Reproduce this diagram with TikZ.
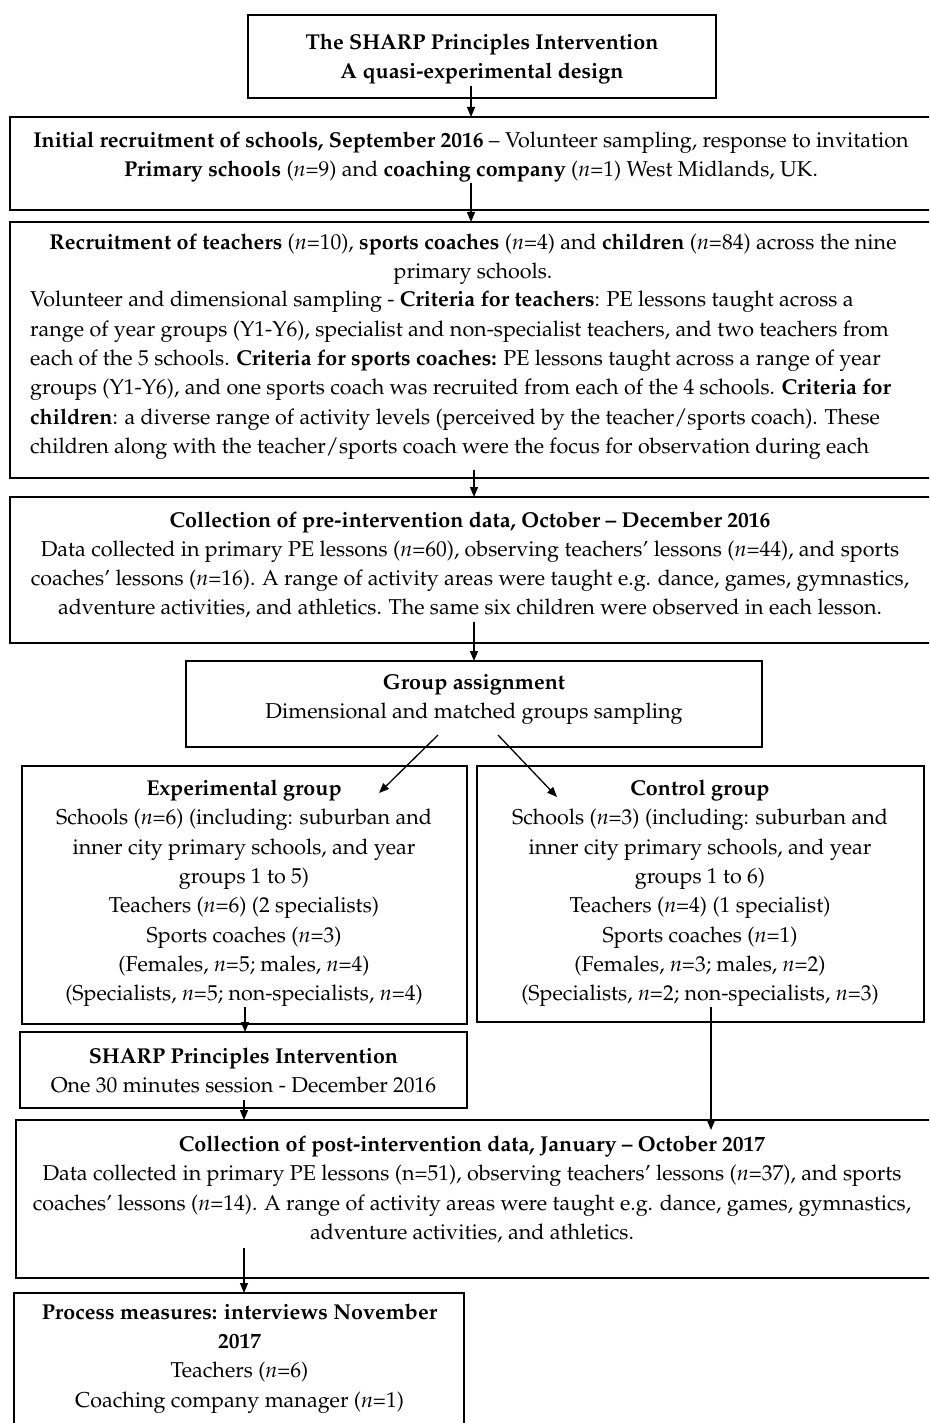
\documentclass[tikz,border=0pt]{standalone}
\usepackage[T1]{fontenc}
\usepackage{mathpazo}
\usetikzlibrary{arrows.meta,calc}
\tikzset{
  box/.style={draw, line width=1.3pt, inner sep=0pt, outer sep=0pt},
  txt/.style={inner sep=0pt, align=center, font=\fontsize{21.5}{29.3}\selectfont},
  txtl/.style={inner sep=0pt, align=left, font=\fontsize{21.5}{29.3}\selectfont},
  arr/.style={line width=1.3pt, -{Triangle[length=10pt,width=8pt]}}
}
\newcommand{\nn}{\textit{n}}
\begin{document}
\begin{tikzpicture}[x=1pt,y=-1pt]
\useasboundingbox (0,0) rectangle (929,1423);
\clip (0,0) rectangle (929,1423);
% boxes
\node[box, minimum width=468pt, minimum height=83pt] (b1) at (482,56.5) {};
\node[box, minimum width=922pt, minimum height=93pt] (b2) at (471,163.5) {};
\node[box, minimum width=922pt, minimum height=256pt] (b3) at (471,350) {};
\node[box, minimum width=922pt, minimum height=146pt] (b4) at (471,570) {};
\node[box, minimum width=576pt, minimum height=86pt] (b5) at (474,704) {};
\node[box, minimum width=445pt, minimum height=258pt] (b6) at (244.5,895) {};
\node[box, minimum width=447pt, minimum height=256pt] (b7) at (700.5,894) {};
\node[box, minimum width=447pt, minimum height=76pt] (b8) at (243.5,1070) {};
\node[box, minimum width=916pt, minimum height=158pt] (b9) at (474,1199) {};
\node[box, minimum width=450pt, minimum height=147pt] (b10) at (239,1366.5) {};
% texts
\node[txt] (t1) at (482,59) {\textbf{The SHARP Principles Intervention}\\\textbf{A quasi-experimental design}};
\node[txt] (t2) at (471,157) {\textbf{Initial recruitment of schools, September 2016} -- Volunteer sampling, response to invitation\\
\textbf{Primary schools} (\nn=9) and \textbf{coaching company} (\nn=1) West Midlands, UK.};
\node[txt] (t3a) at (473,259) {\textbf{Recruitment of teachers} (\nn=10), \textbf{sports coaches} (\nn=4) and \textbf{children} (\nn=84) across the nine\\
primary schools.};
\node[txtl, anchor=west] (t3b) at (30,375.5) {Volunteer and dimensional sampling - \textbf{Criteria for teachers}: PE lessons taught across a\\
range of year groups (Y1-Y6), specialist and non-specialist teachers, and two teachers from\\
each of the 5 schools. \textbf{Criteria for sports coaches:} PE lessons taught across a range of year\\
groups (Y1-Y6), and one sports coach was recruited from each of the 4 schools. \textbf{Criteria for}\\
\textbf{children}: a diverse range of activity levels (perceived by the teacher/sports coach). These\\
children along with the teacher/sports coach were the focus for observation during each};
\node[txt] (t4) at (470,565) {\textbf{Collection of pre-intervention data, October -- December 2016}\\
Data collected in primary PE lessons (\nn=60), observing teachers' lessons (\nn=44), and sports\\
coaches' lessons (\nn=16). A range of activity areas were taught e.g. dance, games, gymnastics,\\
adventure activities, and athletics. The same six children were observed in each lesson.};
\node[txt] (t5) at (474,699.5) {\textbf{Group assignment}\\Dimensional and matched groups sampling};
\node[txt] (t6) at (244,893.5) {\textbf{Experimental group}\\
Schools (\nn=6) (including: suburban and\\
inner city primary schools, and year\\
groups 1 to 5)\\
Teachers (\nn=6) (2 specialists)\\
Sports coaches (\nn=3)\\
(Females, \nn=5; males, \nn=4)\\
(Specialists, \nn=5; non-specialists, \nn=4)};
\node[txt] (t7) at (700,893.5) {\textbf{Control group}\\
Schools (\nn=3) (including: suburban and\\
inner city primary schools, and year\\
groups 1 to 6)\\
Teachers (\nn=4) (1 specialist)\\
Sports coaches (\nn=1)\\
(Females, \nn=3; males, \nn=2)\\
(Specialists, \nn=2; non-specialists, \nn=3)};
\node[txt] (t8) at (243.5,1070.5) {\textbf{SHARP Principles Intervention}\\One 30 minutes session - December 2016};
\node[txt] (t9) at (472,1189.5) {\textbf{Collection of post-intervention data, January -- October 2017}\\
Data collected in primary PE lessons (n=51), observing teachers' lessons (\nn=37), and sports\\
coaches' lessons (\nn=14). A range of activity areas were taught e.g. dance, games, gymnastics,\\
adventure activities, and athletics.};
\node[txt] (t10) at (239.5,1358.5) {\textbf{Process measures: interviews November}\\\textbf{2017}\\
Teachers (\nn=6)\\
Coaching company manager (\nn=1)};
% connector x positions
\coordinate (X471) at (471,0);
\coordinate (X474) at (474,0);
\coordinate (X438) at (438,0);
\coordinate (X379) at (379,0);
\coordinate (X498) at (498,0);
\coordinate (X557) at (557,0);
\coordinate (X245) at (245,0);
\coordinate (X244) at (244,0);
\coordinate (X711) at (711,0);
% connectors
\draw[arr] ($(b1.south -| X471)+(0,-12)$) -- (b2.north -| X471);
\draw[arr] ($(b2.south -| X471)+(0,-27)$) -- (b3.north -| X471);
\draw[arr] ($(b3.south -| X474)+(0,-8)$) -- (b4.north -| X474);
\draw[arr] ($(b4.south -| X474)+(0,-21)$) -- (b5.north -| X474);
\draw[arr] ($(b5.south -| X438)+(0,-12)$) -- ($(b6.north -| X379)+(0,27)$);
\draw[arr] ($(b5.south -| X498)+(0,-12)$) -- ($(b7.north -| X557)+(0,31)$);
\draw[arr] ($(b6.south -| X245)+(0,-17)$) -- (b8.north -| X245);
\draw[arr] ($(b8.south -| X244)+(0,-8)$) -- (b9.north -| X244);
\draw[arr] ($(b7.south -| X711)+(0,-15)$) -- ($(b9.north -| X711)+(0,10)$);
\draw[arr] ($(b9.south -| X244)+(0,-30)$) -- (b10.north -| X244);
\end{tikzpicture}
\end{document}
